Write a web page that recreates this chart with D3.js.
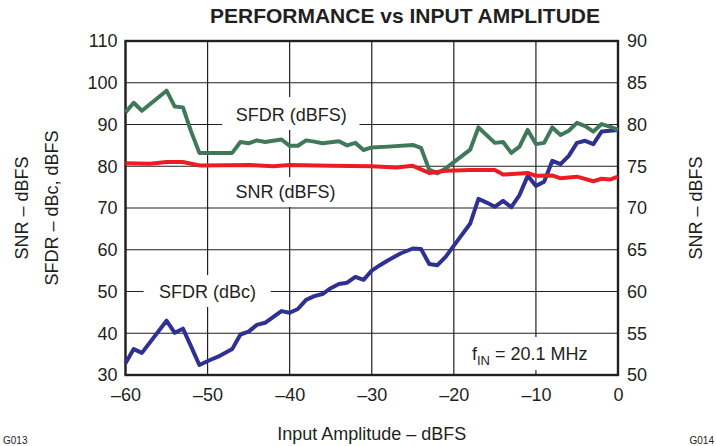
<!DOCTYPE html>
<html>
<head>
<meta charset="utf-8">
<script src="https://cdn.jsdelivr.net/npm/d3@7"></script>
<style>
  body { margin: 0; background: #fff; }
  text { font-family: "Liberation Sans", Arial, sans-serif; fill: #231f20; }
</style>
</head>
<body>
<div class="chart"></div>
<script>
// input amplitude (dBFS) for each curve
let sfdrFsX = [-60,-59,-58,-55,-54,-53,-52,-51,-47,-46,-45,-44,-43,-41,-40,-39,-38,-37,-36,-34,-33,-32,-31,-30,-28,-25,-24,-23,-22,-21,-18,-17,-15,-14,-13,-12,-11,-10,-9,-8,-7,-6,-5,-4,-3,-2,-1,0];
let sfdrFsY = [92.9,95.2,93.3,98.1,94.3,94.1,88.3,83.2,83.2,85.8,85.5,86.2,85.8,86.4,84.9,84.9,86.2,85.9,85.5,86,85,85.6,83.9,84.5,84.7,85.1,84.4,79.2,78.3,79.5,84,89.3,85.6,85.8,83.2,84.7,88.7,85.3,85.6,89.3,87.5,88.5,90.4,89.6,88.3,90.1,89.5,88.7];

// SNR read on the right axis
let snrX = [-60,-57,-55,-53,-51,-45,-42,-40,-35,-30,-27,-25,-23,-21,-18,-15,-14,-11,-10,-8,-7,-5,-3,-2,-1,0];
let snrY = [75.35,75.3,75.5,75.5,75.1,75.15,75.0,75.15,75.05,75.0,74.85,75.05,74.2,74.45,74.55,74.55,74.0,74.2,73.85,73.9,73.55,73.75,73.2,73.5,73.4,73.75];

let sfdrCX = [-60,-59,-58,-55,-54,-53,-52,-51,-49.7,-48.5,-47,-46,-45,-44,-43,-41,-40,-39,-38,-37,-36,-35,-34,-33,-32,-31,-30,-29,-28,-26.5,-25,-24,-23,-22,-21,-19.5,-18,-17,-16,-15,-14,-13,-12,-11,-10,-9,-8,-7,-6,-5,-4,-3,-2,-1,0];
let sfdrCY = [32.8,36.2,35.3,43.0,40.1,41.1,36.8,32.4,33.6,34.6,36.2,39.7,40.4,42.0,42.5,45.3,44.9,45.8,48.0,48.9,49.4,50.8,51.8,52.1,53.5,52.8,55.0,56.3,57.5,59.1,60.3,60.2,56.6,56.3,58.3,62.3,66.3,72.2,71.3,70.3,71.7,70.2,73.1,77.7,75.3,76.3,81.3,80.5,82.5,85.6,86.1,85.3,88.3,88.5,88.7];

let xTicks = [-60,-50,-40,-30,-20,-10,0];
let leftTicks = [30,40,50,60,70,80,90,100,110];
let rightTicks = [50,55,60,65,70,75,80,85,90];

let width = 716, height = 446;
let margin = {top: 41, right: 98, bottom: 71, left: 125.5};

let svg = d3.select(".chart").append("svg")
    .attr("width", width)
    .attr("height", height);

let x = d3.scaleLinear().domain([-60, 0]).range([margin.left, width - margin.right]);
let yL = d3.scaleLinear().domain([30, 110]).range([height - margin.bottom, margin.top]);
let yR = d3.scaleLinear().domain([50, 90]).range([height - margin.bottom, margin.top]);

let dash = d => String(d).replace("-", "\u2013");

// grid
let grid = svg.append("g");
grid.selectAll(".h").data(leftTicks).enter().append("line")
    .attr("x1", x(-60)).attr("x2", x(0))
    .attr("y1", d => yL(d)).attr("y2", d => yL(d))
    .attr("stroke", "#231f20").attr("stroke-width", 1.2);
grid.selectAll(".v").data(xTicks).enter().append("line")
    .attr("x1", d => x(d)).attr("x2", d => x(d))
    .attr("y1", yL(30)).attr("y2", yL(110))
    .attr("stroke", "#231f20").attr("stroke-width", 1.2);

// white boxes behind the in-plot labels
let boxes = [
  {x0: -48.2, x1: -31.5, y0: 97, y1: 130},
  {x0: -48.3, x1: -33.0, y0: 177, y1: 207},
  {x0: -57.8, x1: -42.3, y0: 275, y1: 307},
  {x0: -18.5, x1: -2.2, y0: 337, y1: 370}
];
svg.selectAll(".box").data(boxes).enter().append("rect")
    .attr("x", d => x(d.x0)).attr("width", d => x(d.x1) - x(d.x0))
    .attr("y", d => d.y0).attr("height", d => d.y1 - d.y0)
    .attr("fill", "#fff");

// frame
svg.append("rect")
    .attr("x", x(-60)).attr("y", yL(110))
    .attr("width", x(0) - x(-60)).attr("height", yL(30) - yL(110))
    .attr("fill", "none").attr("stroke", "#231f20").attr("stroke-width", 2.4);

// curves
let lineL = d3.line().x(d => x(d[0])).y(d => yL(d[1]));
let lineR = d3.line().x(d => x(d[0])).y(d => yR(d[1]));

svg.append("path")
    .attr("d", lineL(d3.zip(sfdrCX, sfdrCY)))
    .attr("fill", "none").attr("stroke", "#2e3192").attr("stroke-width", 4)
    .attr("stroke-linejoin", "round");
svg.append("path")
    .attr("d", lineL(d3.zip(sfdrFsX, sfdrFsY)))
    .attr("fill", "none").attr("stroke", "#40795a").attr("stroke-width", 4)
    .attr("stroke-linejoin", "round");
svg.append("path")
    .attr("d", lineR(d3.zip(snrX, snrY)))
    .attr("fill", "none").attr("stroke", "#ed1c24").attr("stroke-width", 4)
    .attr("stroke-linejoin", "round");

// axes
let xAxis = d3.axisBottom(x).tickValues(xTicks).tickSize(0).tickPadding(13).tickFormat(dash);
let leftAxis = d3.axisLeft(yL).tickValues(leftTicks).tickSize(0).tickPadding(8);
let rightAxis = d3.axisRight(yR).tickValues(rightTicks).tickSize(0).tickPadding(9);

let g = svg.append("g");
g.append("g").attr("transform", "translate(0," + yL(30) + ")").call(xAxis);
g.append("g").attr("transform", "translate(" + x(-60) + ",0)").call(leftAxis);
g.append("g").attr("transform", "translate(" + x(0) + ",0)").call(rightAxis);
g.selectAll(".domain").remove();
g.selectAll(".tick text")
    .style("font-family", "'Liberation Sans', Arial, sans-serif")
    .style("font-size", "18px")
    .attr("fill", "#231f20");

// titles
svg.append("text")
    .attr("x", 405).attr("y", 23)
    .attr("text-anchor", "middle")
    .style("font-size", "21px").style("font-weight", "bold")
    .text("PERFORMANCE vs INPUT AMPLITUDE");

svg.append("text")
    .attr("x", x(-30)).attr("y", 440)
    .attr("text-anchor", "middle")
    .style("font-size", "18px")
    .text("Input Amplitude \u2013 dBFS");

svg.append("text")
    .attr("transform", "translate(28,208) rotate(-90)")
    .attr("text-anchor", "middle")
    .style("font-size", "18px")
    .text("SNR \u2013 dBFS");
svg.append("text")
    .attr("transform", "translate(58,208) rotate(-90)")
    .attr("text-anchor", "middle")
    .style("font-size", "18px")
    .text("SFDR \u2013 dBc, dBFS");
svg.append("text")
    .attr("transform", "translate(702,208) rotate(-90)")
    .attr("text-anchor", "middle")
    .style("font-size", "18px")
    .text("SNR \u2013 dBFS");

svg.append("text").attr("x", 3).attr("y", 444).style("font-size", "10px").text("G013");
svg.append("text").attr("x", 714).attr("y", 444).attr("text-anchor", "end").style("font-size", "10px").text("G014");

// curve labels
let labels = [
  {t: "SFDR (dBFS)", x: -39.8, y: 121},
  {t: "SNR (dBFS)", x: -40.5, y: 198},
  {t: "SFDR (dBc)", x: -50.0, y: 298}
];
svg.selectAll(".lbl").data(labels).enter().append("text")
    .attr("x", d => x(d.x)).attr("y", d => d.y)
    .attr("text-anchor", "middle")
    .style("font-size", "18px")
    .text(d => d.t);

let fin = svg.append("text")
    .attr("x", x(-17.8)).attr("y", 360)
    .style("font-size", "18px");
fin.append("tspan").text("f");
fin.append("tspan").attr("dy", 5).style("font-size", "13px").text("IN");
fin.append("tspan").attr("dy", -5).text(" = 20.1 MHz");
</script>
</body>
</html>
